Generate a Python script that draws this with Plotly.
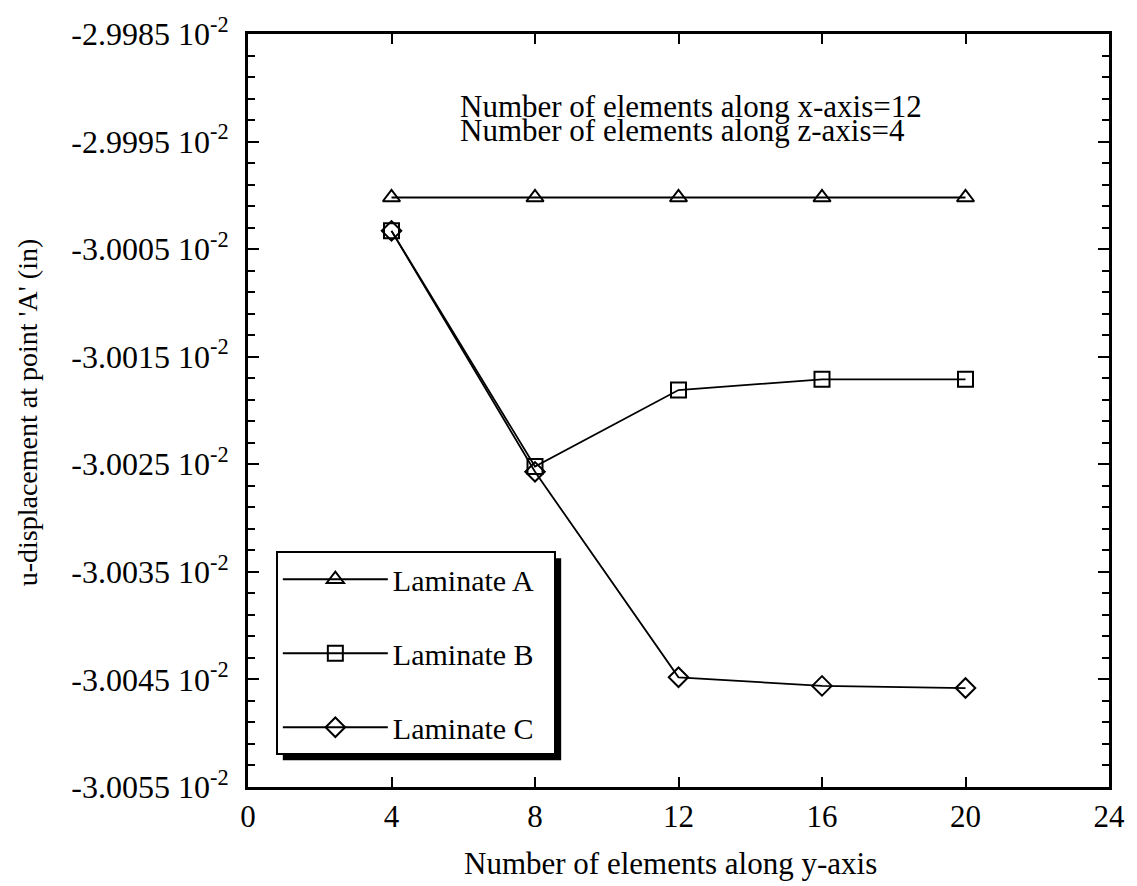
import plotly.graph_objects as go

# Data (u-displacement in units of 1e-2 in)
n_elem_y = [4, 8, 12, 16, 20]
lam_a = [-3.00002, -3.00002, -3.00002, -3.00002, -3.00002]
lam_b = [-3.00033, -3.00252, -3.00181, -3.00171, -3.00171]
lam_c = [-3.00033, -3.00257, -3.00448, -3.00456, -3.00458]
series_names = ["Laminate A", "Laminate B", "Laminate C"]
series_symbols = ["triangle-up-open", "square-open", "diamond-open"]

y_tickvals = [-2.9985, -2.9995, -3.0005, -3.0015, -3.0025, -3.0035, -3.0045, -3.0055]
y_ticktext = [f"{v:.4f} 10<sup>-2</sup>" for v in y_tickvals]
x_tickvals = [0, 4, 8, 12, 16, 20, 24]

FONT = "Liberation Serif, Times New Roman, serif"

fig = go.Figure()
for i, (name, ys, sym) in enumerate(zip(series_names, [lam_a, lam_b, lam_c], series_symbols)):
    fig.add_trace(go.Scatter(
        x=n_elem_y, y=ys, name=name + "&nbsp;&nbsp;", mode="lines+markers",
        line=dict(color="black", width=1.8),
        marker=dict(symbol=sym, size=15, color="black", line=dict(width=2, color="black")),
        legendgroup=f"g{i}",
    ))

fig.update_layout(
    width=1137, height=886,
    margin=dict(l=248, r=23, t=30, b=99),
    paper_bgcolor="white", plot_bgcolor="white",
    font=dict(family=FONT, size=31, color="black"),
    showlegend=True,
    legend=dict(
        x=(276 - 248) / 866, y=(787 - 550) / 757, xanchor="left", yanchor="top",
        bgcolor="white", bordercolor="black", borderwidth=2,
        font=dict(family=FONT, size=30, color="black"),
        tracegroupgap=32, itemwidth=105,
    ),
)

fig.update_xaxes(
    range=[0, 24], tickvals=x_tickvals, ticks="inside", ticklen=10, tickwidth=2,
    tickcolor="black", showline=True, linecolor="black", linewidth=3, mirror="ticks",
    showgrid=False, zeroline=False, tickfont=dict(family=FONT, size=31),
)
fig.update_yaxes(
    range=[-3.0055, -2.9985], tickvals=y_tickvals, ticktext=y_ticktext,
    ticks="inside", ticklen=11, tickwidth=2, tickcolor="black",
    showline=True, linecolor="black", linewidth=3, mirror="ticks",
    showgrid=False, zeroline=False, tickfont=dict(family=FONT, size=32),
    ticklabelstandoff=10,
    minor=dict(dtick=0.0002, tick0=-2.9985, ticks="inside", ticklen=7, tickwidth=2, tickcolor="black", showgrid=False),
)

# axis titles
fig.add_annotation(xref="paper", yref="paper", x=(673 - 248) / 866, y=(787 - 864) / 757,
                   text="Number of elements along y-axis", showarrow=False,
                   font=dict(family=FONT, size=31), xanchor="center", yanchor="middle")
fig.add_annotation(xref="paper", yref="paper", x=(27 - 248) / 866, y=(787 - 410) / 757,
                   text="u-displacement at point 'A' (in)", showarrow=False, textangle=-90,
                   font=dict(family=FONT, size=28), xanchor="center", yanchor="middle")

# info text
fig.add_annotation(xref="paper", yref="paper", x=(459 - 248) / 866, y=(787 - 103) / 757,
                   text="Number of elements along x-axis=12", showarrow=False,
                   font=dict(family=FONT, size=31), xanchor="left", yanchor="middle")
fig.add_annotation(xref="paper", yref="paper", x=(459 - 248) / 866, y=(787 - 127) / 757,
                   text="Number of elements along z-axis=4", showarrow=False,
                   font=dict(family=FONT, size=31), xanchor="left", yanchor="middle")

# legend shadow
fig.add_shape(type="rect", xref="paper", yref="paper",
              x0=(283 - 248) / 866, x1=(563 - 248) / 866,
              y0=(787 - 760) / 757, y1=(787 - 557) / 757,
              fillcolor="black", line=dict(width=0), layer="above")

fig.write_html("out.html")
